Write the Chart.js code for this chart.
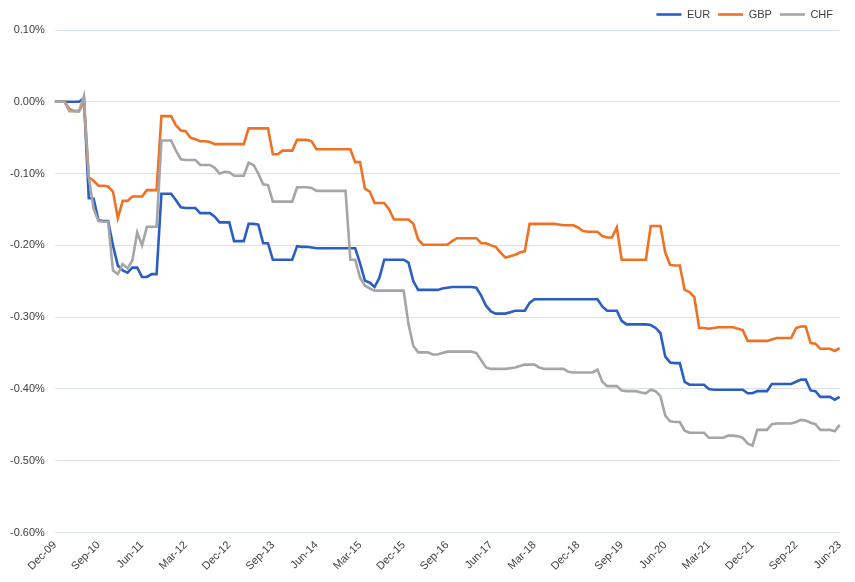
<!DOCTYPE html>
<html>
<head>
<meta charset="utf-8">
<script src="https://cdn.jsdelivr.net/npm/chart.js@4/dist/chart.umd.min.js"></script>
<style>
  html, body { margin: 0; padding: 0; background: #ffffff; }
  #wrap { width: 855px; height: 582px; position: relative; }
</style>
</head>
<body>
<div id="wrap"><canvas id="c" width="855" height="582"></canvas></div>
<script>
// Monthly categories Dec-09 .. Jun-23
const startYear = 2009, startMonth = 11; // December 2009
const monthNames = ['Jan','Feb','Mar','Apr','May','Jun','Jul','Aug','Sep','Oct','Nov','Dec'];
const nMonths = 163;
const categories = [];
for (let i = 0; i < nMonths; i++) {
  const m = (startMonth + i) % 12;
  const y = startYear + Math.floor((startMonth + i) / 12);
  categories.push(monthNames[m] + '-' + String(y % 100).padStart(2, '0'));
}
const tickEvery = 9; // labels shown: Dec-09, Sep-10, Jun-11, ...

const seriesNames = ['EUR', 'GBP', 'CHF'];

// values in percent
const eur = [
  0, 0, 0, 0, 0, 0, 0.005, -0.134, -0.135, -0.165,
  -0.166, -0.166, -0.2, -0.228, -0.235, -0.238, -0.231, -0.231, -0.244, -0.244,
  -0.24, -0.24, -0.128, -0.128, -0.128, -0.137, -0.147, -0.148, -0.148, -0.148,
  -0.155, -0.155, -0.155, -0.16, -0.168, -0.168, -0.168, -0.194, -0.194, -0.194,
  -0.17, -0.17, -0.171, -0.197, -0.197, -0.22, -0.22, -0.22, -0.22, -0.22,
  -0.201, -0.202, -0.202, -0.203, -0.204, -0.204, -0.204, -0.204, -0.204, -0.204,
  -0.204, -0.204, -0.204, -0.225, -0.249, -0.252, -0.258, -0.245, -0.22, -0.22,
  -0.22, -0.22, -0.22, -0.224, -0.25, -0.262, -0.262, -0.262, -0.262, -0.262,
  -0.26, -0.259, -0.258, -0.258, -0.258, -0.258, -0.258, -0.259, -0.27, -0.284,
  -0.292, -0.295, -0.295, -0.295, -0.293, -0.291, -0.291, -0.291, -0.28, -0.275,
  -0.275, -0.275, -0.275, -0.275, -0.275, -0.275, -0.275, -0.275, -0.275, -0.275,
  -0.275, -0.275, -0.275, -0.285, -0.291, -0.291, -0.291, -0.305, -0.31, -0.31,
  -0.31, -0.31, -0.31, -0.311, -0.315, -0.322, -0.355, -0.363, -0.364, -0.364,
  -0.39, -0.394, -0.394, -0.394, -0.394, -0.4, -0.401, -0.401, -0.401, -0.401,
  -0.401, -0.401, -0.401, -0.406, -0.406, -0.403, -0.403, -0.403, -0.393, -0.393,
  -0.393, -0.393, -0.393, -0.39, -0.387, -0.387, -0.402, -0.403, -0.411, -0.411,
  -0.411, -0.415, -0.411
];

const gbp = [
  0, 0, 0, -0.01, -0.013, -0.013, 0, -0.105, -0.11, -0.117,
  -0.117, -0.118, -0.125, -0.162, -0.138, -0.138, -0.132, -0.132, -0.132, -0.123,
  -0.123, -0.123, -0.02, -0.02, -0.02, -0.033, -0.04, -0.041, -0.05, -0.052,
  -0.055, -0.055, -0.056, -0.059, -0.059, -0.059, -0.059, -0.059, -0.059, -0.059,
  -0.037, -0.037, -0.037, -0.037, -0.037, -0.073, -0.073, -0.068, -0.068, -0.068,
  -0.053, -0.053, -0.053, -0.055, -0.066, -0.066, -0.066, -0.066, -0.066, -0.066,
  -0.066, -0.066, -0.084, -0.084, -0.121, -0.125, -0.141, -0.141, -0.141, -0.15,
  -0.164, -0.164, -0.164, -0.164, -0.17, -0.192, -0.199, -0.199, -0.199, -0.199,
  -0.199, -0.199, -0.194, -0.19, -0.19, -0.19, -0.19, -0.19, -0.197, -0.197,
  -0.2, -0.202, -0.21, -0.217, -0.215, -0.213, -0.21, -0.208, -0.17, -0.17,
  -0.17, -0.17, -0.17, -0.17, -0.171, -0.172, -0.172, -0.172, -0.175, -0.18,
  -0.181, -0.181, -0.181, -0.187, -0.189, -0.189, -0.175, -0.22, -0.22, -0.22,
  -0.22, -0.22, -0.22, -0.173, -0.173, -0.173, -0.21, -0.227, -0.228, -0.228,
  -0.262, -0.265, -0.272, -0.315, -0.315, -0.316, -0.315, -0.314, -0.314, -0.314,
  -0.314, -0.316, -0.318, -0.333, -0.333, -0.333, -0.333, -0.333, -0.331, -0.329,
  -0.329, -0.329, -0.329, -0.315, -0.313, -0.313, -0.336, -0.337, -0.344, -0.344,
  -0.344, -0.347, -0.343
];

const chf = [
  0, 0, 0, -0.013, -0.013, -0.013, 0.008, -0.105, -0.149, -0.166,
  -0.167, -0.167, -0.235, -0.24, -0.226, -0.232, -0.221, -0.182, -0.2, -0.174,
  -0.174, -0.174, -0.054, -0.054, -0.054, -0.068, -0.08, -0.081, -0.081, -0.081,
  -0.088, -0.088, -0.088, -0.092, -0.1, -0.0975, -0.098, -0.103, -0.103, -0.103,
  -0.085, -0.088, -0.1, -0.115, -0.116, -0.139, -0.139, -0.139, -0.139, -0.139,
  -0.119, -0.119, -0.119, -0.12, -0.124, -0.124, -0.124, -0.124, -0.124, -0.124,
  -0.124, -0.22, -0.22, -0.245, -0.256, -0.26, -0.263, -0.263, -0.263, -0.263,
  -0.263, -0.263, -0.263, -0.31, -0.34, -0.349, -0.349, -0.349, -0.352, -0.352,
  -0.35, -0.348, -0.348, -0.348, -0.348, -0.348, -0.348, -0.35, -0.36, -0.37,
  -0.372, -0.372, -0.372, -0.372, -0.371, -0.37, -0.368, -0.366, -0.366, -0.366,
  -0.37, -0.372, -0.372, -0.372, -0.372, -0.372, -0.376, -0.377, -0.377, -0.377,
  -0.377, -0.377, -0.373, -0.39, -0.396, -0.396, -0.396, -0.402, -0.403, -0.403,
  -0.403, -0.405, -0.406, -0.401, -0.403, -0.41, -0.437, -0.445, -0.446, -0.446,
  -0.458, -0.461, -0.461, -0.461, -0.461, -0.468, -0.468, -0.468, -0.468, -0.465,
  -0.465, -0.466, -0.468, -0.476, -0.479, -0.457, -0.457, -0.457, -0.449, -0.448,
  -0.448, -0.448, -0.448, -0.446, -0.443, -0.444, -0.447, -0.449, -0.457, -0.457,
  -0.457, -0.459, -0.45
];

const yMin = -0.6, yMax = 0.1, yStep = 0.1;

const colors = ['#2B5EC4', '#EF7121', '#A5A5A5'];
const FONT = "'Liberation Sans', Arial, sans-serif";
const TEXT = '#404040';

const values = [eur, gbp, chf];
const datasets = seriesNames.map((name, k) => ({
  label: name,
  data: values[k],
  borderColor: colors[k],
  backgroundColor: colors[k],
  borderWidth: 2.6,
  pointRadius: 0,
  pointHoverRadius: 0,
  tension: 0,
  fill: false,
  order: 3 - k
}));

new Chart(document.getElementById('c'), {
  type: 'line',
  data: { labels: categories, datasets },
  options: {
    responsive: false,
    animation: false,
    layout: { padding: { left: 0, right: 14, top: 1, bottom: 3 } },
    plugins: {
      tooltip: { enabled: false },
      legend: {
        position: 'top',
        align: 'end',
        labels: {
          usePointStyle: true,
          pointStyle: 'line',
          pointStyleWidth: 25,
          padding: 8,
          color: TEXT,
          font: { family: FONT, size: 11 },
          sort: (a, b) => a.datasetIndex - b.datasetIndex
        }
      }
    },
    scales: {
      x: {
        type: 'category',
        offset: false,
        grid: { display: false, drawTicks: false },
        border: { display: false },
        ticks: {
          autoSkip: false,
          maxRotation: 45,
          minRotation: 45,
          padding: 6,
          color: TEXT,
          font: { family: FONT, size: 11 },
          callback: function (v, i) { return i % tickEvery === 0 ? categories[i] : ''; }
        }
      },
      y: {
        min: yMin,
        max: yMax,
        grid: { color: '#D9E2E8', lineWidth: 1, drawTicks: false },
        border: { display: false },
        ticks: {
          stepSize: yStep,
          padding: 10,
          color: TEXT,
          font: { family: FONT, size: 11 },
          callback: v => v.toFixed(2) + '%'
        }
      }
    }
  }
});
</script>
</body>
</html>
